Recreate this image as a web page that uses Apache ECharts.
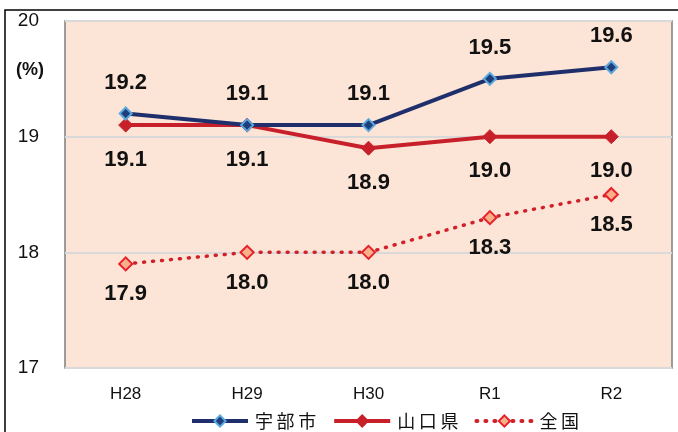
<!DOCTYPE html>
<html>
<head>
<meta charset="utf-8">
<script src="https://cdn.jsdelivr.net/npm/echarts@6/dist/echarts.min.js"></script>
<style>
  html, body { margin: 0; padding: 0; background: #fff; }
  #chart { width: 678px; height: 432px; }
</style>
</head>
<body>
<div id="chart"></div>
<script>
// 年度
const years = ['H28', 'H29', 'H30', 'R1', 'R2'];
// 各系列の値 (%)
const ubeValues = [19.2, 19.1, 19.1, 19.5, 19.6];
const yamaguchiValues = [19.1, 19.1, 18.9, 19.0, 19.0];
const zenkokuValues = [17.9, 18.0, 18.0, 18.3, 18.5];
const seriesNames = ['宇部市', '山口県', '全国'];

const chart = echarts.init(document.getElementById('chart'));
const numFont = 'Liberation Sans, Arial, sans-serif';
const jpFont = 'Noto Sans CJK JP, sans-serif';

const labelStyle = {
  show: true,
  fontFamily: numFont,
  fontSize: 22,
  fontWeight: 'bold',
  color: '#111',
  formatter: (p) => p.value.toFixed(1)
};

chart.setOption({
  animation: false,
  grid: {
    left: 65,
    top: 21,
    right: 6,
    bottom: 64,
    show: true,
    backgroundColor: '#FCE4D6',
    borderColor: '#7f7f7f',
    borderWidth: 1.5
  },
  graphic: [
    // 外枠
    {
      type: 'polyline',
      shape: { points: [[5, 440], [5, 10], [690, 10]] },
      style: { stroke: '#000', lineWidth: 1.5, fill: null }
    },
    {
      type: 'text',
      left: 16,
      top: 61,
      style: { text: '(%)', fontFamily: numFont, fontSize: 18, fontWeight: 'bold', fill: '#111' }
    }
  ],
  legend: {
    bottom: -3,
    left: 185,
    itemWidth: 56,
    itemHeight: 14,
    itemGap: 16,
    lineStyle: { width: 4 },
    textStyle: { fontFamily: jpFont, fontSize: 18, color: '#111', padding: [0, 0, 0, 2] },
    // 文字間を少し広げる
    formatter: (name) => name.split('').join('\u2009'),
    data: seriesNames
  },
  xAxis: {
    type: 'category',
    data: years,
    boundaryGap: true,
    axisLine: { show: false },
    axisTick: { show: false },
    axisLabel: { fontFamily: numFont, fontSize: 17, color: '#111', margin: 18 }
  },
  yAxis: {
    type: 'value',
    min: 17,
    max: 20,
    interval: 1,
    axisLine: { show: false },
    axisTick: { show: false },
    axisLabel: { fontFamily: numFont, fontSize: 19, color: '#111', margin: 26 },
    splitLine: { lineStyle: { color: '#d9d9d9', width: 2 } }
  },
  series: [
    {
      name: '宇部市',
      type: 'line',
      data: ubeValues,
      symbol: 'diamond',
      symbolSize: 12,
      z: 4,
      lineStyle: { color: '#1F2F6B', width: 4 },
      itemStyle: { color: '#1F3F7A', borderColor: '#5BA8E0', borderWidth: 2 },
      label: Object.assign({}, labelStyle, { position: 'top', distance: 13 })
    },
    {
      name: '山口県',
      type: 'line',
      data: yamaguchiValues,
      symbol: 'diamond',
      symbolSize: 14,
      z: 3,
      lineStyle: { color: '#C8202A', width: 4 },
      itemStyle: { color: '#C8202A', borderColor: '#C8202A', borderWidth: 1 },
      label: Object.assign({}, labelStyle, { position: 'bottom', distance: 16 })
    },
    {
      name: '全国',
      type: 'line',
      data: zenkokuValues,
      symbol: 'diamond',
      symbolSize: 13,
      z: 2,
      lineStyle: { color: '#D0202A', width: 3.5, type: [1, 8], cap: 'round' },
      itemStyle: { color: '#F7B08A', borderColor: '#E8202A', borderWidth: 2 },
      label: Object.assign({}, labelStyle, { position: 'bottom', distance: 12 })
    }
  ]
});
</script>
</body>
</html>
